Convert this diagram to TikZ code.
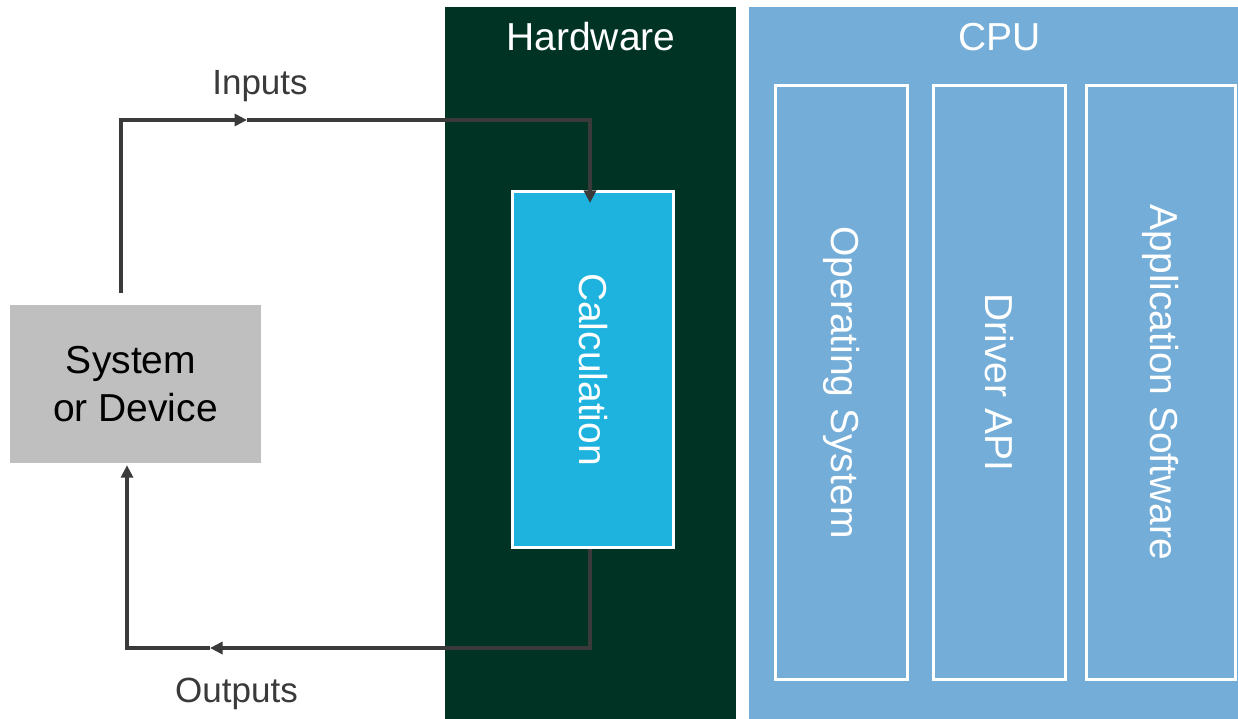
\documentclass[tikz,border=0pt]{standalone}
\usepackage{fontspec}
\setmainfont{Liberation Sans}
\usepackage{graphicx}
\usetikzlibrary{arrows.meta}

\definecolor{hwgreen}{RGB}{0,51,36}
\definecolor{cpublue}{RGB}{116,174,216}
\definecolor{calcblue}{RGB}{30,179,222}
\definecolor{sysgray}{RGB}{191,191,191}
\definecolor{linegray}{RGB}{58,58,58}

\tikzset{
  panel/.style={rectangle, inner sep=0pt, outer sep=0pt},
  paneltitle/.style={text=white, inner sep=0pt, font=\fontsize{39}{46}\selectfont},
  flowlabel/.style={text=linegray, inner sep=0pt, font=\fontsize{35}{42}\selectfont},
  layerbox/.style={rectangle, draw=white, line width=3pt, inner sep=0pt,
    text=white, font=\fontsize{39}{46}\selectfont},
  sysbox/.style={rectangle, fill=sysgray, inner sep=0pt, align=center,
    text=black, font=\fontsize{39}{48}\selectfont},
  flow/.style={draw=linegray, line width=3.6pt,
    -{Triangle[length=12.5pt,width=12pt]}}
}

\begin{document}
\begin{tikzpicture}[x=1pt,y=-1pt]
  \useasboundingbox (0,0) rectangle (1238,719);
  \fill[white] (0,0) rectangle (1238,719);

  % background panels
  \node[panel, fill=hwgreen, minimum width=291pt, minimum height=712pt] (hw) at (590.5,363) {};
  \node[panel, fill=cpublue, minimum width=489pt, minimum height=712pt] (cpu) at (993.5,363) {};
  \node[paneltitle] (hwtitle) at (591,37) {Hardware};
  \node[paneltitle] (cputitle) at (999.5,37) {CPU};

  % software layers on the CPU
  \node[layerbox, minimum width=132pt, minimum height=594pt] (os) at (841.5,382.5)
    {\rotatebox{-90}{Operating System}};
  \node[layerbox, minimum width=132pt, minimum height=594pt] (drv) at (999.5,382.5)
    {\rotatebox{-90}{Driver API}};
  \node[layerbox, minimum width=149pt, minimum height=594pt] (app) at (1161,382.5)
    {\rotatebox{-90}{Application Software}};

  % calculation block on the hardware
  \node[layerbox, fill=calcblue, minimum width=161pt, minimum height=356pt] (calc) at (593,369.5)
    {\rotatebox{-90}{Calculation}};

  % controlled system
  \node[sysbox, minimum width=251pt, minimum height=158pt] (sys) at (135.5,384)
    {System\kern9pt\\or Device};

  % signal flow
  \coordinate (in1) at (247,120);
  \coordinate (out1) at (210,648);
  \draw[flow, shorten <=12pt] ([xshift=-14.5pt]sys.north) |- (in1);
  \draw[flow, shorten >=-13pt] (in1) -| ([xshift=-3pt]calc.north);
  \draw[flow] ([xshift=-3pt]calc.south) |- (out1);
  \draw[flow, shorten >=2pt] (out1) -| ([xshift=-8.5pt]sys.south);

  \node[flowlabel] (inlabel) at (260,86) {Inputs};
  \node[flowlabel] (outlabel) at (236.5,694) {Outputs};
\end{tikzpicture}
\end{document}
